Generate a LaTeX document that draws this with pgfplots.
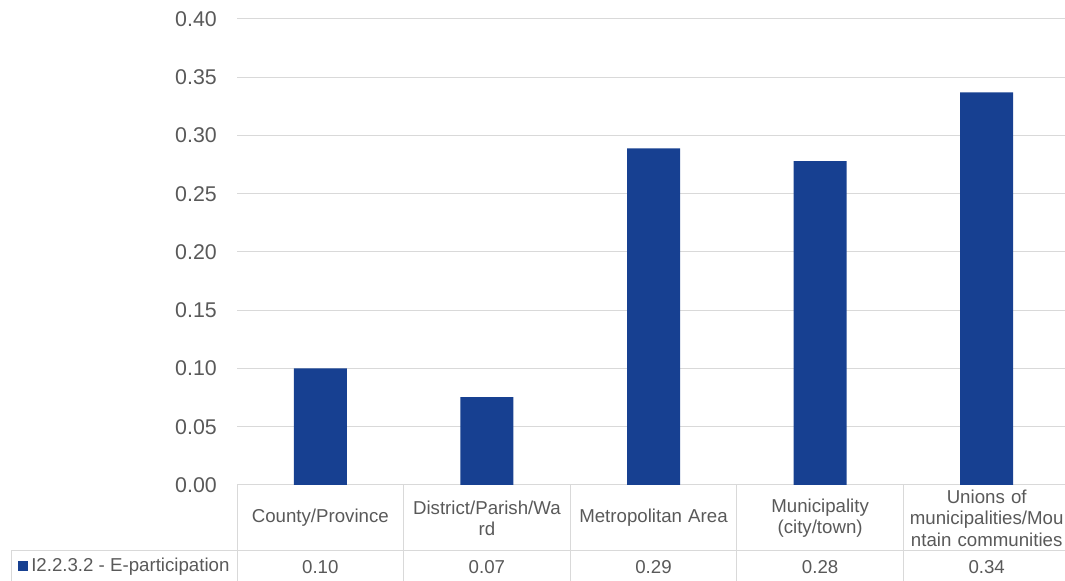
\documentclass[border=0pt]{standalone}
\usepackage{pgfplots}
\pgfplotsset{compat=1.18}
\usepackage{pgfplotstable}
\usepackage{fontspec}
\setmainfont{Liberation Sans}
\definecolor{barblue}{RGB}{23,64,145}
\definecolor{gridgrey}{RGB}{217,217,217}
\definecolor{textgrey}{RGB}{89,89,89}
\pgfplotstableread{
x v lab
0 0.100 0.10
1 0.0755 0.07
2 0.289 0.29
3 0.278 0.28
4 0.337 0.34
}\datatable
\begin{document}
\begin{tikzpicture}[x=0.75pt,y=0.75pt,font=\fontsize{14}{16}\selectfont]
\path[use as bounding box, clip] (0,0) rectangle (1065,581);
\begin{axis}[
  at={(177.75pt,72pt)}, anchor=south west, scale only axis,
  width=624.75pt, height=349.5pt,
  xmin=-0.5, xmax=4.5, ymin=0, ymax=0.4,
  clip=false,
  ytick={0,0.05,0.1,0.15,0.2,0.25,0.3,0.35,0.4},
  xtick={0,1,2,3,4},
  xticklabels={County/Province, District/Parish/Wa\\rd, Metropolitan Area, Municipality\\(city/town), Unions of\\municipalities/Mou\\ntain communities},
  xticklabel style={text width=120pt, align=center, anchor=center, inner sep=0pt, yshift=-24.75pt, text=textgrey},
  yticklabel style={anchor=east, inner sep=0pt, xshift=-15pt, text=textgrey, font=\fontsize{16}{18}\selectfont},
  /pgf/number format/fixed,
  /pgf/number format/fixed zerofill,
  /pgf/number format/precision=2,
  /pgf/number format/assume math mode=true,
  axis line style={draw=none},
  tick style={draw=none},
  ymajorgrids,
  major grid style={gridgrey, line width=0.75pt},
]
\addplot[ybar, bar width=39.75pt, fill=barblue, draw=none] table[x=x, y=v] \datatable;
\addplot[draw=none, mark=none, point meta=explicit, nodes near coords,
  every node near coord/.append style={anchor=center, yshift=-61.5pt, text=textgrey, inner sep=0pt}]
  table[x=x, y expr=0, meta=lab] \datatable;
\end{axis}
\begin{scope}[gridgrey, line width=0.75pt]
\draw (11,30) -- (1070,30);
\draw (11,30) -- (11,0);
\foreach \xx in {237,403.6,570.2,736.8,903.4,1070} {\draw (\xx,96) -- (\xx,0);}
\end{scope}
\fill[barblue] (18,10) rectangle (28,20);
\node[anchor=west, inner sep=0pt, text=textgrey] at (31,14.5) {I2.2.3.2 - E-participation};
\end{tikzpicture}
\end{document}
